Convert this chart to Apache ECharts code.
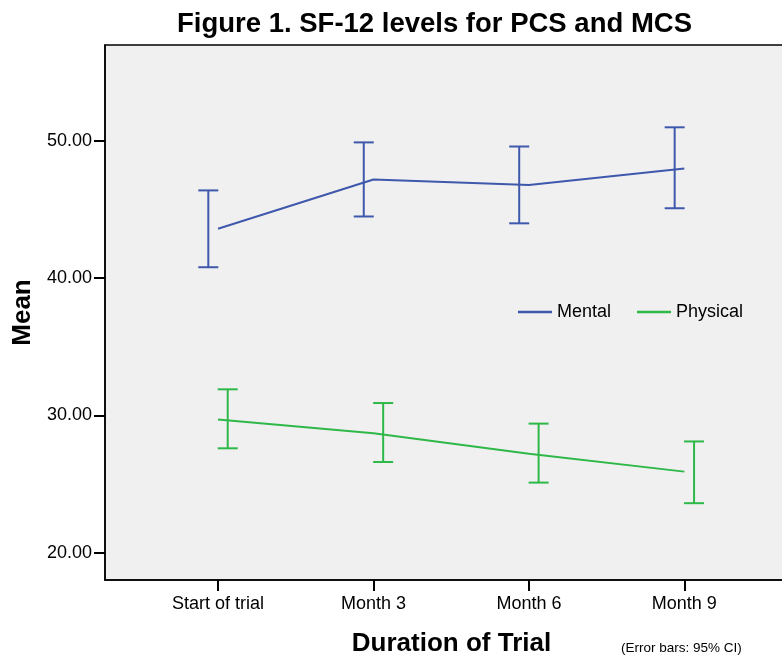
<!DOCTYPE html>
<html>
<head>
<meta charset="utf-8">
<script src="https://cdn.jsdelivr.net/npm/echarts@6/dist/echarts.min.js"></script>
<style>html,body{margin:0;padding:0;background:#fff;}#c{width:782px;height:655px;}</style>
</head>
<body>
<div id="c"></div>
<script>
const categories = ['Start of trial', 'Month 3', 'Month 6', 'Month 9'];
const mentalMean = [43.6, 47.2, 46.8, 48.0];
const mentalLow = [40.8, 44.5, 44.0, 45.1];
const mentalHigh = [46.4, 49.9, 49.6, 51.0];
const physicalMean = [29.7, 28.7, 27.2, 25.9];
const physicalLow = [27.6, 26.6, 25.1, 23.6];
const physicalHigh = [31.9, 30.9, 29.4, 28.1];
const yTicks = [20, 30, 40, 50];

const FONT = "'Liberation Sans', Arial, sans-serif";
const BLUE = '#3e58ac';
const GREEN = '#2eb848';

function lineData(means) { return means.map((v, i) => [i, v]); }
function barData(lows, highs) { return lows.map((v, i) => [i, v, highs[i]]); }

function errorBar(offset, color) {
  return function (params, api) {
    const i = api.value(0);
    const top = api.coord([i, api.value(2)]);
    const bot = api.coord([i, api.value(1)]);
    const x = top[0] + offset;
    const cap = 10;
    const style = { stroke: color, lineWidth: 2 };
    return {
      type: 'group',
      children: [
        { type: 'line', shape: { x1: x, y1: top[1], x2: x, y2: bot[1] }, style },
        { type: 'line', shape: { x1: x - cap, y1: top[1], x2: x + cap, y2: top[1] }, style },
        { type: 'line', shape: { x1: x - cap, y1: bot[1], x2: x + cap, y2: bot[1] }, style }
      ]
    };
  };
}

const chart = echarts.init(document.getElementById('c'), null, { renderer: 'canvas' });
chart.setOption({
  backgroundColor: '#ffffff',
  animation: false,
  textStyle: { fontFamily: FONT },
  title: {
    text: 'Figure 1. SF-12 levels for PCS and MCS',
    left: 172, top: 5,
    textStyle: { fontFamily: FONT, fontSize: 27.5, fontWeight: 'bold', color: '#000' }
  },
  grid: {
    left: 105, right: -2, top: 45, bottom: 75,
    show: true, backgroundColor: '#f0f0f0', borderColor: '#000', borderWidth: 1.5,
    containLabel: false,
    outerBoundsMode: 'none'
  },
  legend: {
    data: ['Mental', 'Physical'],
    left: 513, top: 298,
    icon: 'rect', itemWidth: 34, itemHeight: 2.5, itemGap: 26,
    textStyle: { fontFamily: FONT, fontSize: 18, color: '#000' }
  },
  xAxis: {
    type: 'value',
    min: -0.727, max: 3.641,
    name: 'Duration of Trial',
    nameLocation: 'middle',
    nameGap: 51,
    nameTextStyle: { fontFamily: FONT, fontSize: 26, fontWeight: 'bold', color: '#000', padding: [0, 0, 0, 14] },
    splitLine: { show: false },
    axisLine: { show: true, onZero: false, lineStyle: { color: '#000', width: 1.5 } },
    axisTick: { show: true, customValues: [0, 1, 2, 3], length: 11, lineStyle: { color: '#000', width: 2 } },
    axisLabel: {
      customValues: [0, 1, 2, 3],
      formatter: v => categories[Math.round(v)],
      fontFamily: FONT, fontSize: 18, color: '#000', margin: 15
    }
  },
  yAxis: {
    type: 'value',
    min: 18, max: 57,
    name: 'Mean',
    nameLocation: 'middle',
    nameGap: 63,
    nameTextStyle: { fontFamily: FONT, fontSize: 26, fontWeight: 'bold', color: '#000' },
    splitLine: { show: false },
    axisLine: { show: true, onZero: false, lineStyle: { color: '#000', width: 1.5 } },
    axisTick: { show: true, customValues: yTicks, length: 11, lineStyle: { color: '#000', width: 2 } },
    axisLabel: {
      customValues: yTicks,
      formatter: v => v.toFixed(2),
      fontFamily: FONT, fontSize: 18, color: '#000', margin: 13
    }
  },
  graphic: [{
    type: 'text',
    left: 621, top: 641,
    style: { text: '(Error bars: 95% CI)', fontFamily: FONT, fontSize: 13.5, fill: '#000' }
  }],
  series: [
    {
      name: 'Mental', type: 'line', data: lineData(mentalMean),
      showSymbol: false, symbol: 'none', color: BLUE,
      lineStyle: { color: BLUE, width: 2 }, z: 3
    },
    {
      name: 'Physical', type: 'line', data: lineData(physicalMean),
      showSymbol: false, symbol: 'none', color: GREEN,
      lineStyle: { color: GREEN, width: 2 }, z: 3
    },
    {
      name: 'Mental CI', type: 'custom', data: barData(mentalLow, mentalHigh),
      renderItem: errorBar(-9.7, BLUE), encode: { x: 0, y: [1, 2] }, z: 4
    },
    {
      name: 'Physical CI', type: 'custom', data: barData(physicalLow, physicalHigh),
      renderItem: errorBar(9.7, GREEN), encode: { x: 0, y: [1, 2] }, z: 4
    }
  ]
});
</script>
</body>
</html>
